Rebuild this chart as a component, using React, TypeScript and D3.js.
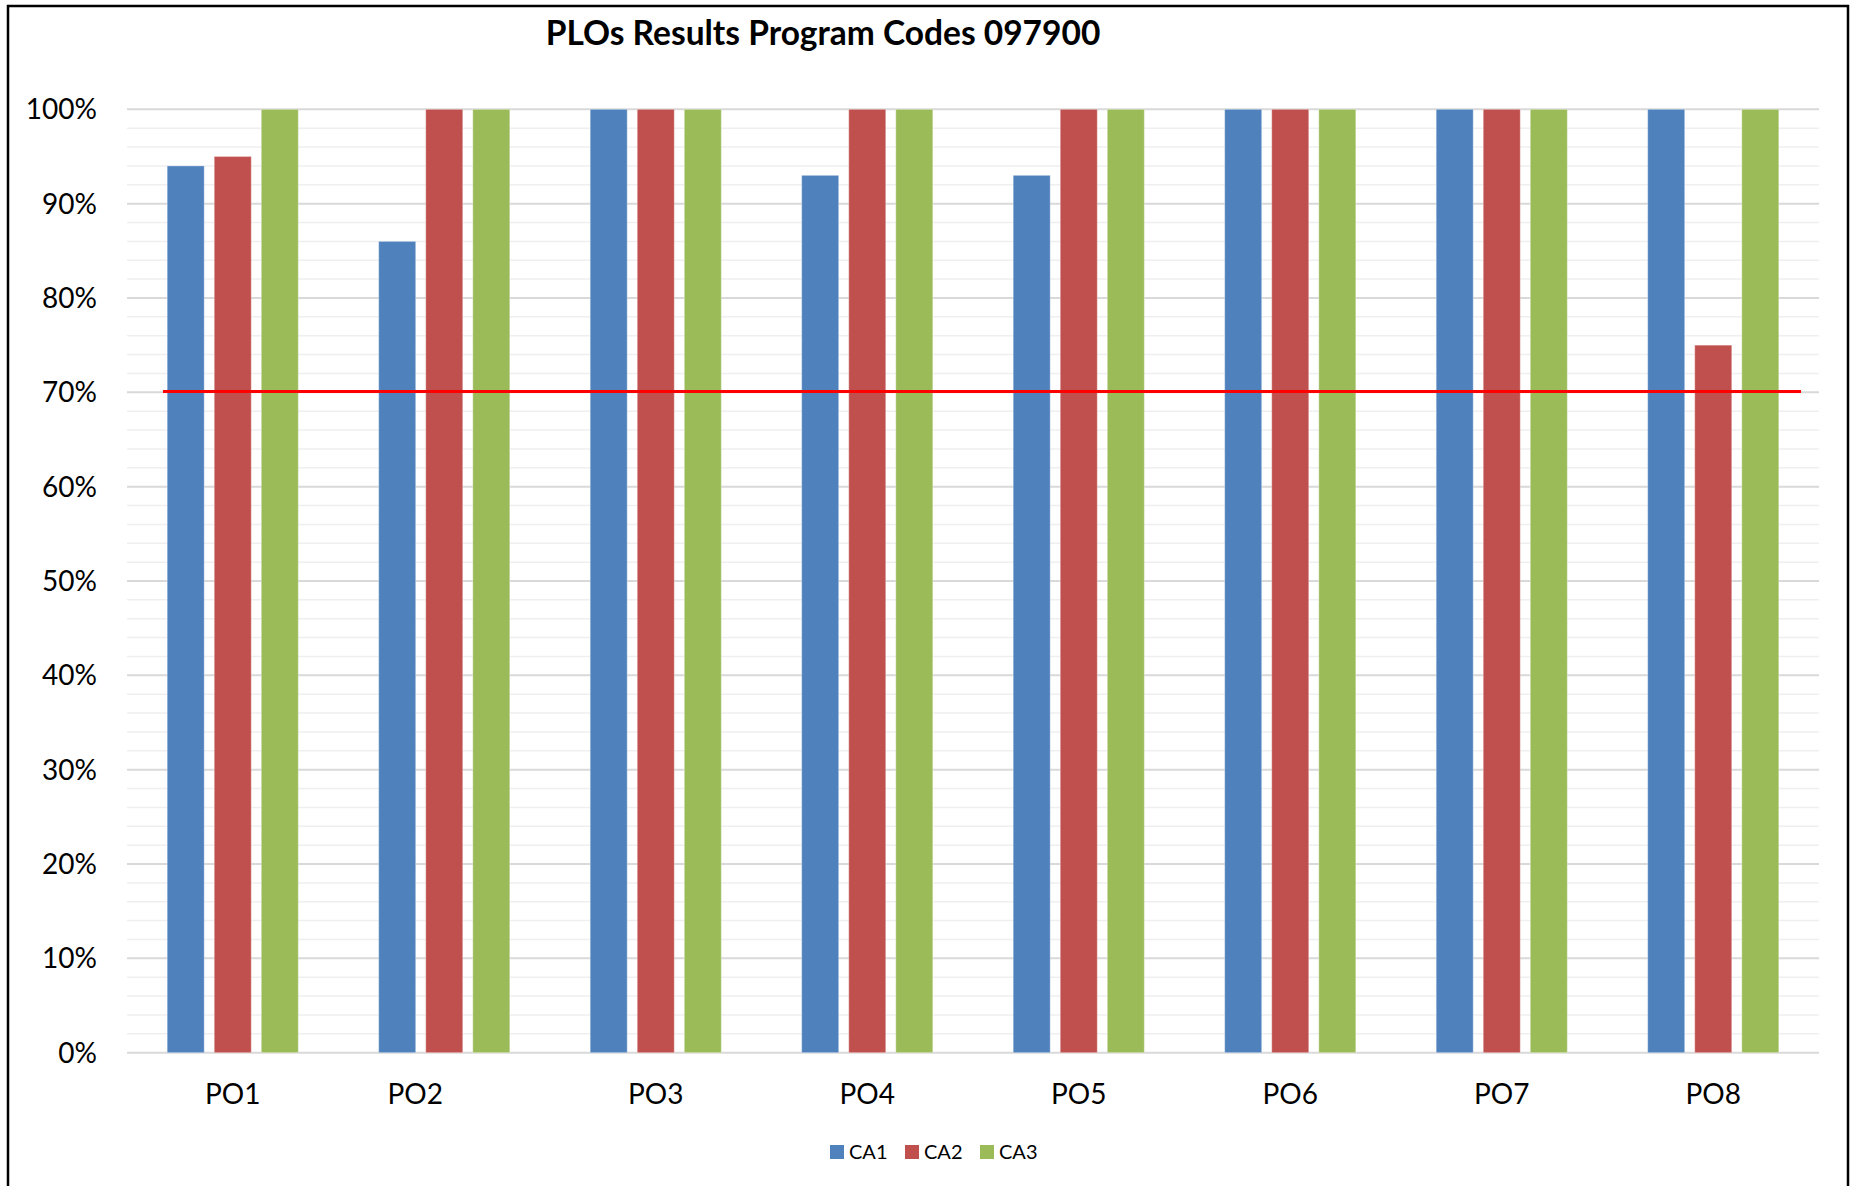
import * as d3 from 'd3';

const categories = ['PO1', 'PO2', 'PO3', 'PO4', 'PO5', 'PO6', 'PO7', 'PO8'];
const seriesNames = ['CA1', 'CA2', 'CA3'];
const ca1 = [94, 86, 100, 93, 93, 100, 100, 100];
const ca2 = [95, 100, 100, 100, 100, 100, 100, 75];
const ca3 = [100, 100, 100, 100, 100, 100, 100, 100];
const target = 70.1;
const yTicks = [0, 10, 20, 30, 40, 50, 60, 70, 80, 90, 100];
const minorTicks = d3.range(0, 101, 2).filter((v) => v % 10 !== 0);

const COLORS = ['#4f81bd', '#c0504d', '#9bbb59'];
const FONT = 'Lato, "Open Sans", sans-serif';

const W = 1850;
const H = 1186;
const plot = { left: 127, right: 1819, top: 109.3, bottom: 1052.7 };

export default function App() {
  const values = [ca1, ca2, ca3];

  const x = d3.scaleBand<string>()
    .domain(categories)
    .range([plot.left, plot.right]);

  const groupW = x.bandwidth() * 0.62;
  const xs = d3.scaleBand<string>()
    .domain(seriesNames)
    .range([-groupW / 2, groupW / 2])
    .paddingInner(0.213);

  const y = d3.scaleLinear().domain([0, 100]).range([plot.bottom, plot.top]);

  // threshold line stretches a little past the first and last groups
  const lineX1 = plot.left + x.bandwidth() * 0.17;
  const lineX2 = plot.right - x.bandwidth() * 0.085;

  // legend layout
  const legendItemW = 75;
  const legendX0 = 933 - (legendItemW * seriesNames.length - 19) / 2;

  return (
    <div style={{ position: 'absolute', left: 0, top: 0 }}>
      <svg width={W} height={H} viewBox={`0 0 ${W} ${H}`} style={{ display: 'block', background: '#fff' }}>
        <rect x={8} y={6} width={1840} height={1200} fill="#fff" stroke="#000" strokeWidth={2.5} />

        <text
          x={823}
          y={45}
          textAnchor="middle"
          fontFamily={FONT}
          fontWeight={700}
          fontSize={33.5}
          fill="#000"
        >
          PLOs Results Program Codes 097900
        </text>

        {/* minor gridlines */}
        {minorTicks.map((t) => (
          <line key={`m${t}`} x1={plot.left} x2={plot.right} y1={y(t)} y2={y(t)} stroke="#efefef" strokeWidth={1.5} />
        ))}
        {/* major gridlines */}
        {yTicks.map((t) => (
          <line key={`g${t}`} x1={plot.left} x2={plot.right} y1={y(t)} y2={y(t)} stroke="#d9d9d9" strokeWidth={2} />
        ))}

        {yTicks.map((t) => (
          <text
            key={`t${t}`}
            x={97}
            y={y(t)}
            dy="0.36em"
            textAnchor="end"
            fontFamily={FONT}
            fontSize={28}
            fill="#000"
          >
            {`${t}%`}
          </text>
        ))}

        {categories.map((cat, i) => (
          <g key={cat} transform={`translate(${x(cat)! + x.bandwidth() / 2},0)`}>
            {seriesNames.map((s, j) => (
              <rect
                key={s}
                x={xs(s)!}
                y={y(values[j][i])}
                width={xs.bandwidth()}
                height={y(0) - y(values[j][i])}
                fill={COLORS[j]}
                stroke="#ffffff"
                strokeOpacity={0.35}
                strokeWidth={1}
              />
            ))}
            {/* PO2's label sits left of its group in the source chart */}
            <text
              x={0}
              dx={cat === 'PO2' ? -29 : 0}
              y={1104}
              textAnchor="middle"
              fontFamily={FONT}
              fontSize={28}
              fill="#000"
            >
              {cat}
            </text>
          </g>
        ))}

        <line x1={lineX1} x2={lineX2} y1={y(target)} y2={y(target)} stroke="#ff0000" strokeWidth={3} />

        {seriesNames.map((s, j) => (
          <g key={s} transform={`translate(${legendX0 + j * legendItemW},1145)`}>
            <rect x={0} y={0} width={14} height={14} fill={COLORS[j]} />
            <text x={19} y={14} fontFamily={FONT} fontSize={20} fill="#000">
              {s}
            </text>
          </g>
        ))}
      </svg>
    </div>
  );
}
